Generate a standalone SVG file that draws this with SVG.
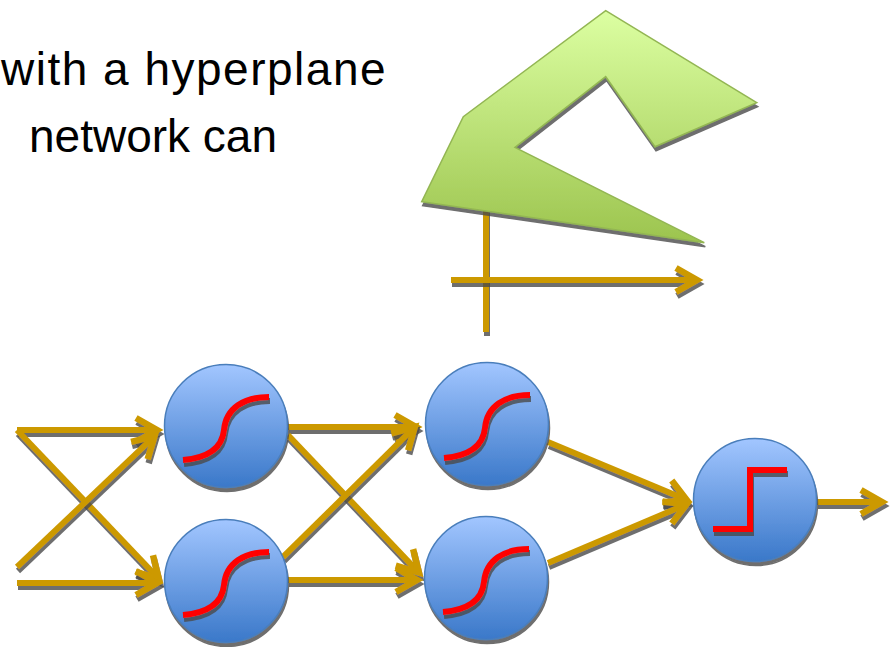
<svg xmlns="http://www.w3.org/2000/svg" width="896" height="647" viewBox="0 0 896 647">
  <defs>
    <linearGradient id="ball" x1="0" y1="0" x2="0" y2="1">
      <stop offset="0" stop-color="#A2C6FF"/>
      <stop offset="1" stop-color="#3A78C9"/>
    </linearGradient>
    <linearGradient id="leaf" x1="0" y1="0" x2="0" y2="1">
      <stop offset="0" stop-color="#DCFFA2"/>
      <stop offset="1" stop-color="#9CC44E"/>
    </linearGradient>
    <filter id="shadow" filterUnits="userSpaceOnUse" x="-1000" y="-1000" width="3000" height="3000">
      <feOffset in="SourceAlpha" dx="1" dy="3.5" result="off"/>
      <feFlood flood-color="#4a4a4a" flood-opacity="0.8"/>
      <feComposite in2="off" operator="in" result="sh"/>
      <feMerge>
        <feMergeNode in="sh"/>
        <feMergeNode in="SourceGraphic"/>
      </feMerge>
    </filter>
    <marker id="head" markerUnits="userSpaceOnUse" viewBox="-28 -17 42 34" markerWidth="42" markerHeight="34" refX="0" refY="0" orient="auto">
      <path d="M-21,-12 L0,0 L-21,12" fill="none" stroke="#CC9900" stroke-width="6.5" stroke-linejoin="miter" stroke-miterlimit="4"/>
    </marker>
    <style>
      .txt { font-family: "Liberation Sans", Arial, sans-serif; font-size: 46px; fill: #000; }
      .wire { fill: none; stroke: #CC9900; stroke-width: 6; filter: url(#shadow); }
      .arrow { marker-end: url(#head); }
      .ball { fill: url(#ball); stroke: #4A7EBB; stroke-width: 1.5; filter: url(#shadow); }
      .act { fill: none; stroke: #FF0000; stroke-width: 6; stroke-linejoin: miter; filter: url(#shadow); }
      .region { fill: url(#leaf); stroke: #93B653; stroke-width: 1.5; stroke-linejoin: miter; filter: url(#shadow); }
    </style>
  </defs>

  <!-- heading text -->
  <g id="caption">
    <text class="txt" x="1" y="85" letter-spacing="1.5">with a hyperplane</text>
    <text class="txt" x="29" y="152">network can</text>
  </g>

  <!-- coordinate axes under the decision region -->
  <g id="axes">
    <line class="wire" x1="486" y1="205" x2="486" y2="332"/>
    <line class="wire arrow" x1="451" y1="280" x2="697" y2="280"/>
  </g>

  <!-- non-convex decision region -->
  <g id="region">
    <polygon class="region" points="605.7,10.7 756.7,102.7 655,146.7 605.7,76.7 515,147.3 704.3,242.7 421.7,201.7 463.3,116.7"/>
  </g>

  <!-- weighted connections -->
  <g id="connectors">
    <line class="wire arrow" x1="17" y1="430" x2="157" y2="430"/>
    <line class="wire arrow" x1="17" y1="430" x2="158.8" y2="578.7"/>
    <line class="wire arrow" x1="17" y1="567" x2="154.6" y2="436.1"/>
    <line class="wire arrow" x1="17" y1="583" x2="157" y2="583"/>

    <line class="wire arrow" x1="288" y1="427" x2="416" y2="427"/>
    <line class="wire arrow" x1="288" y1="435" x2="418.9" y2="572.6"/>
    <line class="wire arrow" x1="283" y1="557" x2="414.7" y2="427.2"/>
    <line class="wire arrow" x1="288" y1="580" x2="417" y2="580"/>

    <line class="wire arrow" x1="548" y1="442" x2="686.5" y2="499.7"/>
    <line class="wire arrow" x1="548" y1="563" x2="686.5" y2="504.3"/>

    <line class="wire arrow" x1="817" y1="502" x2="882" y2="502"/>
  </g>

  <!-- hidden layer 1 -->
  <g id="h1a" transform="translate(226,426)">
    <circle class="ball" r="61.5"/>
    <path class="act" d="M-43,34 C-20,32 -4,24 -2,4 C0,-18 18,-29 43,-29"/>
  </g>
  <g id="h1b" transform="translate(226,581)">
    <circle class="ball" r="61.5"/>
    <path class="act" d="M-43,34 C-20,32 -4,24 -2,4 C0,-18 18,-29 43,-29"/>
  </g>

  <!-- hidden layer 2 -->
  <g id="h2a" transform="translate(487,424)">
    <circle class="ball" r="61.5"/>
    <path class="act" d="M-43,34 C-20,32 -4,24 -2,4 C0,-18 18,-29 43,-29"/>
  </g>
  <g id="h2b" transform="translate(486,578)">
    <circle class="ball" r="61.5"/>
    <path class="act" d="M-43,34 C-20,32 -4,24 -2,4 C0,-18 18,-29 43,-29"/>
  </g>

  <!-- threshold output unit -->
  <g id="out" transform="translate(755,500)">
    <circle class="ball" r="61.5"/>
    <path class="act" d="M-42,29 H-5 V-30 H32"/>
  </g>
</svg>
